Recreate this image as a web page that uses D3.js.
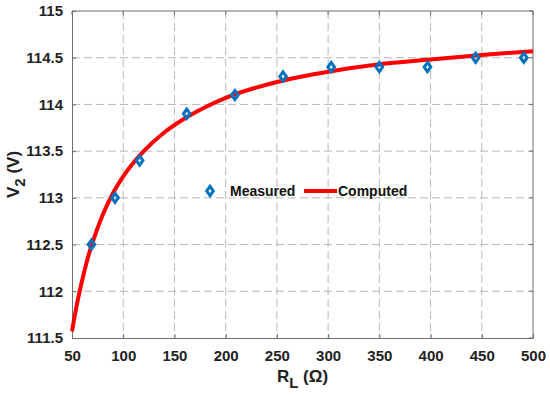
<!DOCTYPE html>
<html>
<head>
<meta charset="utf-8">
<script src="https://cdn.jsdelivr.net/npm/d3@7"></script>
<style>
  body { margin: 0; background: #fff; }
  svg { font-family: "Liberation Sans", Arial, sans-serif; }
</style>
</head>
<body>
<div id="chart"></div>
<script>
// measured points
const measuredR = [69, 92, 116, 162, 209, 256, 303, 350, 397, 444, 491];
const measuredV = [112.5, 113.0, 113.4, 113.9, 114.1, 114.3, 114.4, 114.4, 114.4, 114.5, 114.5];

// computed curve
const computedR = [50, 55, 60, 65, 70, 80, 90, 100, 120, 140, 160, 180, 200, 250, 300, 350, 400, 450, 500];
const computedV = [111.57, 111.87, 112.12, 112.34, 112.52, 112.82, 113.05, 113.23, 113.5, 113.7, 113.85, 113.97, 114.07, 114.24, 114.35, 114.43, 114.48, 114.53, 114.57];

const xTicks = [50, 100, 150, 200, 250, 300, 350, 400, 450, 500];
const yTicks = [111.5, 112, 112.5, 113, 113.5, 114, 114.5, 115];

const W = 550, H = 396;
const margin = { top: 11, right: 17, bottom: 58, left: 72 };
const width = W - margin.left - margin.right;
const height = H - margin.top - margin.bottom;

const svg = d3.select("#chart").append("svg")
    .attr("width", W)
    .attr("height", H);

const g = svg.append("g")
    .attr("transform", `translate(${margin.left},${margin.top})`);

const x = d3.scaleLinear().domain([50, 500]).range([0, width]);
const y = d3.scaleLinear().domain([111.5, 115]).range([height, 0]);

// --- grid ---
g.append("g").selectAll("line")
    .data(xTicks.slice(1, -1))
    .join("line")
    .attr("x1", d => x(d)).attr("x2", d => x(d))
    .attr("y1", 0).attr("y2", height)
    .attr("stroke", "#b8b8b8")
    .attr("stroke-dasharray", "8,4");

g.append("g").selectAll("line")
    .data(yTicks.slice(1, -1))
    .join("line")
    .attr("x1", 0).attr("x2", width)
    .attr("y1", d => y(d)).attr("y2", d => y(d))
    .attr("stroke", "#b8b8b8")
    .attr("stroke-dasharray", "8,4");

// --- axes ---
const xAxis = g.append("g")
    .attr("transform", `translate(0,${height})`)
    .call(d3.axisBottom(x).tickValues(xTicks).tickSizeInner(-4).tickSizeOuter(0).tickPadding(12));
const yAxis = g.append("g")
    .call(d3.axisLeft(y).tickValues(yTicks).tickFormat(d3.format("~g")).tickSizeInner(-4).tickSizeOuter(0).tickPadding(9));

[xAxis, yAxis].forEach(a => {
  a.select(".domain").attr("stroke", "#6e6e6e");
  a.selectAll(".tick line").attr("stroke", "#6e6e6e");
  a.selectAll("text")
      .attr("fill", "#222")
      .style("font-size", "15px")
      .style("font-weight", "bold")
      .style("font-family", "'Liberation Sans', Arial, sans-serif");
});

// box top / right
g.append("line").attr("x1", 0).attr("x2", width).attr("y1", 0).attr("y2", 0).attr("stroke", "#6e6e6e");
g.append("line").attr("x1", width).attr("x2", width).attr("y1", 0).attr("y2", height).attr("stroke", "#6e6e6e");
g.append("g").selectAll("line").data(xTicks).join("line")
    .attr("x1", d => x(d)).attr("x2", d => x(d)).attr("y1", 0).attr("y2", 4).attr("stroke", "#6e6e6e");
g.append("g").selectAll("line").data(yTicks).join("line")
    .attr("x1", width - 4).attr("x2", width).attr("y1", d => y(d)).attr("y2", d => y(d)).attr("stroke", "#6e6e6e");

// --- computed curve ---
const line = d3.line()
    .x((d, i) => x(computedR[i]))
    .y(d => y(d))
    .curve(d3.curveMonotoneX);

g.append("path")
    .datum(computedV)
    .attr("d", line)
    .attr("fill", "none")
    .attr("stroke", "#ff0000")
    .attr("stroke-width", 4);

// --- measured points ---
const diamond = (cx, cy) => `M${cx},${cy - 4.6}L${cx + 3.3},${cy}L${cx},${cy + 4.6}L${cx - 3.3},${cy}Z`;
g.append("g").selectAll("path")
    .data(measuredV)
    .join("path")
    .attr("d", (d, i) => diamond(x(measuredR[i]), y(d)))
    .attr("fill", "none")
    .attr("stroke", "#0072BD")
    .attr("stroke-width", 3);

// --- legend ---
const leg = svg.append("g");
leg.append("path")
    .attr("d", diamond(210, 191))
    .attr("fill", "none")
    .attr("stroke", "#0072BD")
    .attr("stroke-width", 3);
leg.append("text")
    .attr("x", 230).attr("y", 196)
    .style("font-size", "14px").style("font-weight", "bold")
    .attr("fill", "#111")
    .text("Measured");
leg.append("line")
    .attr("x1", 304).attr("x2", 337).attr("y1", 191).attr("y2", 191)
    .attr("stroke", "#ff0000").attr("stroke-width", 4);
leg.append("text")
    .attr("x", 338).attr("y", 196)
    .style("font-size", "14px").style("font-weight", "bold")
    .attr("fill", "#111")
    .text("Computed");

// --- axis labels ---
const xl = svg.append("text")
    .attr("x", margin.left + width / 2)
    .attr("y", 382)
    .attr("text-anchor", "middle")
    .style("font-size", "17px").style("font-weight", "bold")
    .attr("fill", "#222");
xl.append("tspan").text("R");
xl.append("tspan").attr("dy", 6).style("font-size", "15px").text("L");
xl.append("tspan").attr("dy", -6).text(" (\u03A9)");

const yl = svg.append("text")
    .attr("transform", `translate(19,${margin.top + height / 2}) rotate(-90)`)
    .attr("text-anchor", "middle")
    .style("font-size", "17px").style("font-weight", "bold")
    .attr("fill", "#222");
yl.append("tspan").text("V");
yl.append("tspan").attr("dy", 6).style("font-size", "15px").text("2");
yl.append("tspan").attr("dy", -6).text(" (V)");
</script>
</body>
</html>
